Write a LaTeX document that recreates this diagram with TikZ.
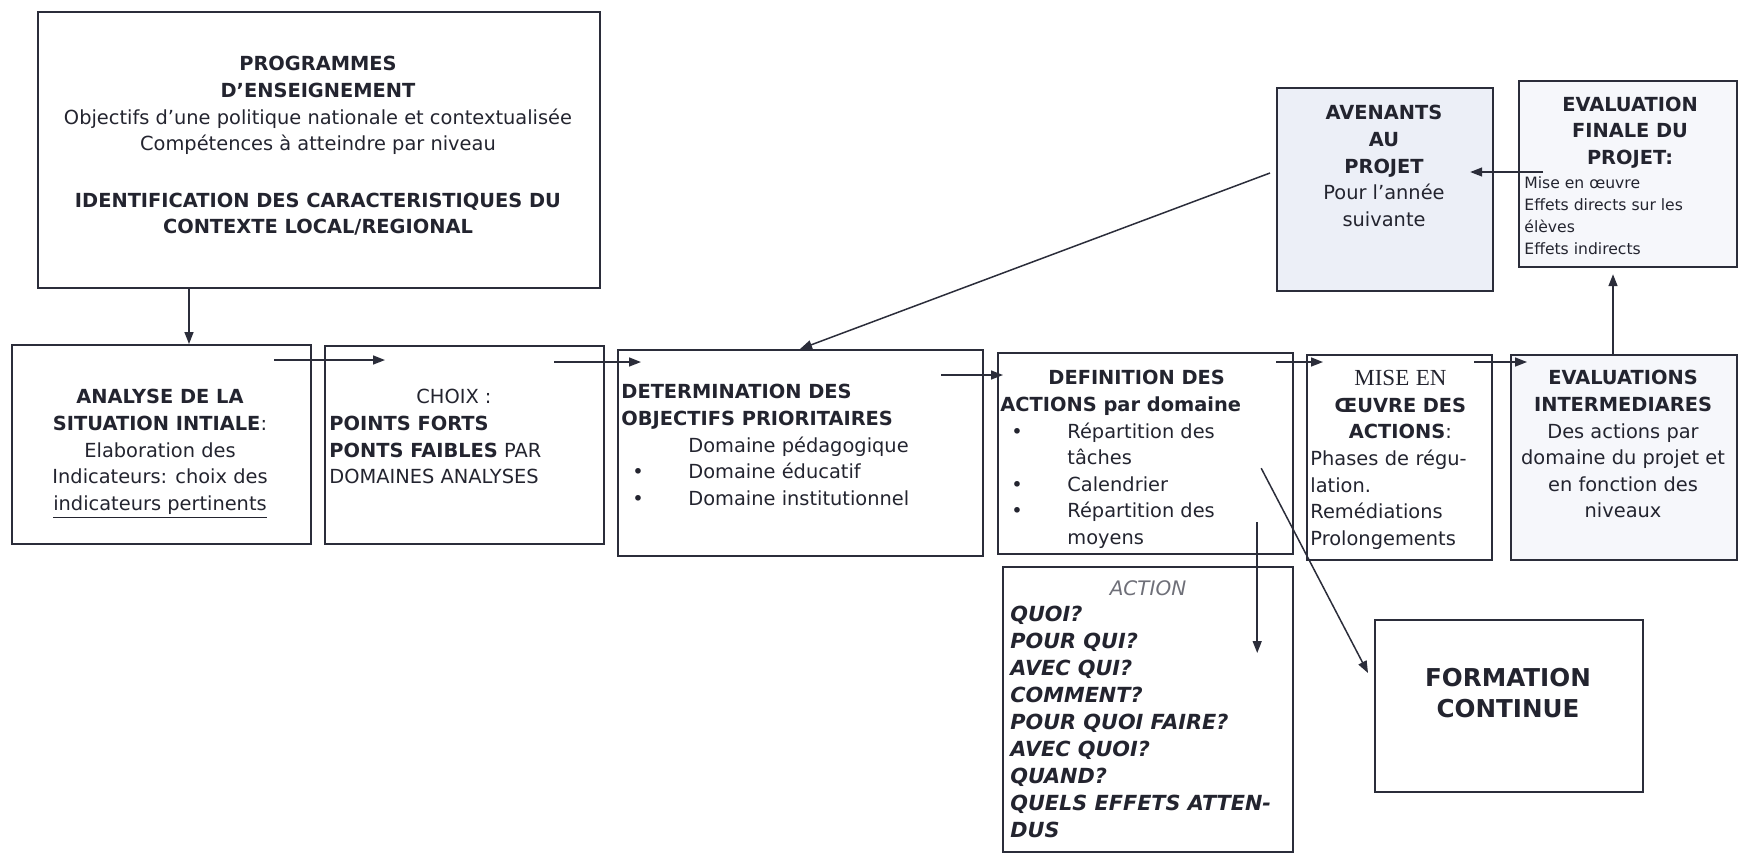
\documentclass[tikz,border=0pt]{standalone}
\usepackage{fontspec}
\setmainfont{DejaVu Sans}
\newfontfamily\serifmise{Liberation Serif}
\usetikzlibrary{arrows.meta, calc}

\definecolor{trait}{HTML}{2B2D3A}
\definecolor{encre}{HTML}{23242F}
\definecolor{fondbleu}{HTML}{ECEFF7}
\definecolor{fondpale}{HTML}{F6F7FB}
\definecolor{crayon}{HTML}{6E6F78}

\newcommand{\corps}{\fontsize{9.7}{13.3}\selectfont}
\newcommand{\petit}{\fontsize{7.8}{11}\selectfont}
\newcommand{\puce}{\makebox[33.5pt][l]{\hspace{5.5pt}\textbullet}}

\begin{document}
\begin{tikzpicture}[%
        x = 0.5pt, y = -0.5pt,
        > = {Triangle[length = 6pt, width = 4.5pt]},
        cadre/.style = {draw = trait, line width = 1.1pt, anchor = north west, inner sep = 0pt},
        texte/.style = {text = encre, inner sep = 0pt, font = \corps},
        fleche/.style = {->, draw = trait, line width = 0.75pt}
    ]

        % Page frame.
        \useasboundingbox (0, 0) rectangle (1738, 853);

        % Boxes:
        \node[cadre, minimum width = 281pt, minimum height = 138pt] (prog) at (37, 11) {};
        \node[cadre, minimum width = 108pt, minimum height = 101.5pt, fill = fondbleu] (avenants) at (1276, 87) {};
        \node[cadre, minimum width = 109pt, minimum height = 93pt, fill = fondpale] (finale) at (1518, 80) {};
        \node[cadre, minimum width = 149.5pt, minimum height = 99.5pt] (analyse) at (11, 344) {};
        \node[cadre, minimum width = 139.5pt, minimum height = 99pt] (choix) at (324, 345) {};
        \node[cadre, minimum width = 182.5pt, minimum height = 103pt] (determ) at (617, 349) {};
        \node[cadre, minimum width = 147.5pt, minimum height = 100.5pt] (defin) at (997, 352) {};
        \node[cadre, minimum width = 92.5pt, minimum height = 102.5pt] (mise) at (1306, 354) {};
        \node[cadre, minimum width = 113pt, minimum height = 102.5pt, fill = fondpale] (evals) at (1510, 354) {};
        \node[cadre, minimum width = 145pt, minimum height = 142.5pt] (action) at (1002, 566) {};
        \node[cadre, minimum width = 134pt, minimum height = 86pt] (formation) at (1374, 619) {};

        % Texts of the boxes:
        \node[texte, anchor = north, align = center] (prog-t) at (318, 56)
            {\textbf{PROGRAMMES}\\ \textbf{D’ENSEIGNEMENT}\\
             Objectifs d’une politique nationale et contextualisée\\
             Compétences à atteindre par niveau\\[15pt]
             \textbf{IDENTIFICATION DES CARACTERISTIQUES DU}\\
             \textbf{CONTEXTE LOCAL/REGIONAL}};
        \node[texte, anchor = north, align = center] (avenants-t) at (1384, 105)
            {\textbf{AVENANTS}\\ \textbf{AU}\\ \textbf{PROJET}\\ Pour l’année\\ suivante};
        \node[texte, anchor = north] (finale-t) at (1630, 92)
            {\begin{tabular}{@{}c@{}}\textbf{EVALUATION}\\ \textbf{FINALE DU}\\ \textbf{PROJET:}\end{tabular}};
        \node[texte, anchor = north west, align = left, font = \petit] (finale-s) at (1524, 176)
            {Mise en œuvre\\ Effets directs sur les\\ élèves\\ Effets indirects};
        \node[texte, anchor = north, align = center] (analyse-t) at (160, 389)
            {\textbf{ANALYSE DE LA}\\ \textbf{SITUATION INTIALE}:\\ Elaboration des\\
             Indicateurs: choix des\\ \underline{indicateurs pertinents}};
        \node[texte, anchor = north west, align = left] (choix-t) at (329, 389)
            {\hspace*{43.5pt}CHOIX :\\ \textbf{POINTS FORTS}\\ \textbf{PONTS FAIBLES} PAR\\ DOMAINES ANALYSES};
        \node[texte, anchor = north west, align = left] (determ-t) at (621, 384)
            {\textbf{DETERMINATION DES}\\ \textbf{OBJECTIFS PRIORITAIRES}\\
             \hspace*{33.5pt}Domaine pédagogique\\ \puce Domaine éducatif\\ \puce Domaine institutionnel};
        \node[texte, anchor = north west, align = left] (defin-t) at (1000, 370)
            {\hspace*{24pt}\textbf{DEFINITION DES}\\ \textbf{ACTIONS par domaine}\\
             \puce Répartition des\\ \hspace*{33.5pt}tâches\\ \puce Calendrier\\
             \puce Répartition des\\ \hspace*{33.5pt}moyens};
        \node[texte, anchor = north west, text width = 90pt, align = left] (mise-t) at (1310, 370)
            {\makebox[90pt]{\serifmise\fontsize{11.5}{13.3}\selectfont MISE EN}\\
             \makebox[90pt]{\textbf{ŒUVRE DES}}\\ \makebox[90pt]{\textbf{ACTIONS}:}\\
             Phases de régu-\\ lation.\\ Remédiations\\ Prolongements};
        \node[texte, anchor = north, align = center] (evals-t) at (1623, 370)
            {\textbf{EVALUATIONS}\\ \textbf{INTERMEDIARES}\\ Des actions par\\
             domaine du projet et\\ en fonction des\\ niveaux};
        \node[texte, anchor = north, text = crayon, font = \fontsize{10}{12}\selectfont\itshape] (action-t) at (1148, 580) {ACTION};
        \node[texte, anchor = north west, align = left, font = \fontsize{10.4}{13.5}\selectfont\bfseries\itshape] (action-q) at (1010, 606)
            {QUOI?\\ POUR QUI?\\ AVEC QUI?\\ COMMENT?\\ POUR QUOI FAIRE?\\
             AVEC QUOI?\\ QUAND?\\ QUELS EFFETS ATTEN-\\ DUS};
        \node[texte, anchor = north, align = center, font = \fontsize{12.3}{15.5}\selectfont\bfseries] (formation-t) at (1508, 668)
            {FORMATION\\ CONTINUE};

        % Connectors:
        \draw[fleche] ($(prog.south west)+(152, 0)$) -- ($(analyse.north west)+(178, 0)$);
        \draw[fleche] ($(analyse.north east)+(-38, 16)$) -- ($(choix.north west)+(61, 15)$);
        \draw[fleche] ($(choix.north east)+(-51, 17)$) -- ($(determ.north west)+(24, 13)$);
        \draw[fleche] ($(determ.north east)+(-43, 26)$) -- ($(defin.north west)+(6, 23)$);
        \draw[fleche] ($(defin.north east)+(-18, 10)$) -- ($(mise.north west)+(17, 8)$);
        \draw[fleche] ($(mise.north east)+(-19, 8)$) -- ($(evals.north west)+(17, 8)$);
        \draw[fleche] ($(evals.north west)+(103, 0)$) -- ($(finale.south west)+(95, 6)$);
        \draw[fleche] ($(finale.north west)+(25, 92)$) -- ($(avenants.north east)+(-24, 85)$);
        \draw[fleche] ($(avenants.north west)+(-6, 86)$) -- ($(determ.north west)+(183, 0)$);
        \draw[fleche] ($(defin.south east)+(-37, -33)$) -- ($(action.north east)+(-37, 87)$);
        \draw[fleche] ($(defin.south east)+(-33, -87)$) -- ($(formation.north west)+(-6, 54)$);
    \end{tikzpicture}
\end{document}
